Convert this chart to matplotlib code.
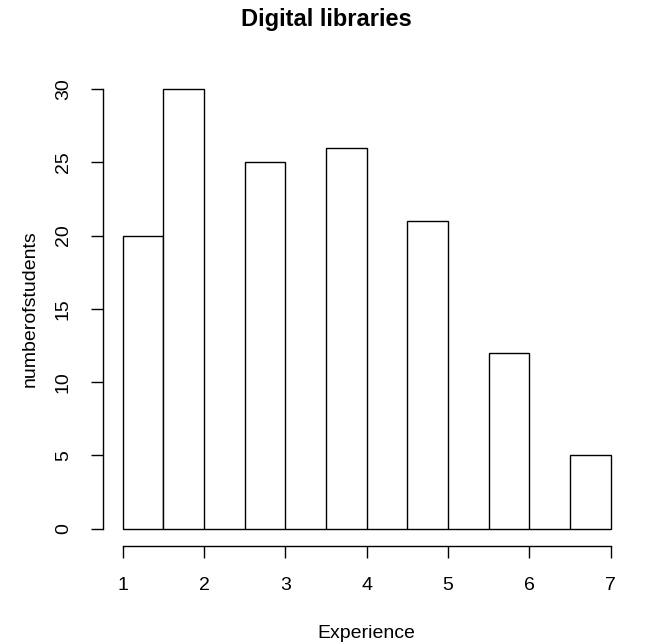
import matplotlib.pyplot as plt
import numpy as np

plt.rcParams['font.family'] = ['Liberation Sans', 'DejaVu Sans']

# histogram bins (width 0.5) and counts, as drawn by R's hist()
bin_edges = np.arange(1.0, 7.01, 0.5)
counts = [20, 30, 0, 25, 0, 26, 0, 21, 0, 12, 0, 5]
x_ticks = [1, 2, 3, 4, 5, 6, 7]
y_ticks = [0, 5, 10, 15, 20, 25, 30]

fig = plt.figure(figsize=(6.53, 6.44), dpi=100)
ax = fig.add_axes([0.158, 0.152, 0.807, 0.737])

ax.bar(bin_edges[:-1], counts, width=0.5, align='edge',
       facecolor='white', edgecolor='black', linewidth=1.0)

# R style: 4% padding and axes only spanning the tick range
ax.set_xlim(0.76, 7.24)
ax.set_ylim(-1.2, 31.2)
for side in ['top', 'right']:
    ax.spines[side].set_visible(False)
ax.spines['left'].set_bounds(0, 30)
ax.spines['bottom'].set_bounds(1, 7)
ax.spines['left'].set_linewidth(1.0)
ax.spines['bottom'].set_linewidth(1.0)

ax.set_xticks(x_ticks)
ax.set_yticks(y_ticks)
ax.set_yticklabels([str(v) for v in y_ticks], rotation=90, va='center')
ax.tick_params(axis='both', length=8.5, width=1.0, labelsize=14, pad=14)

ax.set_xlabel('Experience', fontsize=14, labelpad=22)
ax.set_ylabel('numberofstudents', fontsize=14, labelpad=12)
fig.suptitle('Digital libraries', fontsize=17, fontweight='bold', y=0.988)

fig.savefig('out.png', dpi=100)
